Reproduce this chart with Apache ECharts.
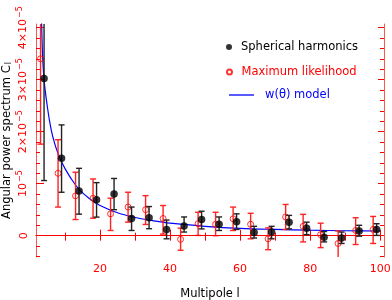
<!DOCTYPE html>
<html><head><meta charset="utf-8">
<script src="https://cdn.jsdelivr.net/npm/echarts@6/dist/echarts.min.js"></script>
<style>html,body{margin:0;padding:0;background:#fff}#c{width:392px;height:300px}</style>
</head><body><div id="c"></div>
<script>
// values of C_l are given in units of 1e-5
const shL  = [4, 9, 14, 19, 24, 29, 34, 39, 44, 49, 54, 59, 64, 69, 74, 79, 84, 89, 94, 99];
const shC  = [3.02, 1.49, 0.86, 0.69, 0.80, 0.33, 0.345, 0.12, 0.185, 0.31, 0.22, 0.27, 0.06, 0.07, 0.26, 0.145, -0.03, -0.045, 0.09, 0.12];
const shLo = [1.06, 0.835, 0.414, 0.357, 0.50, 0.10, 0.134, -0.06, 0.07, 0.13, 0.10, 0.12, -0.045, -0.06, 0.13, 0.02, -0.12, -0.15, -0.01, 0.005];
const shHi = [4.9, 2.13, 1.295, 1.02, 1.10, 0.55, 0.56, 0.30, 0.36, 0.47, 0.36, 0.42, 0.18, 0.18, 0.39, 0.26, 0.08, 0.07, 0.20, 0.23];

const mlL  = [3, 8, 13, 18, 23, 28, 33, 38, 43, 48, 53, 58, 63, 68, 73, 78, 83, 88, 93, 98];
const mlC  = [3.40, 1.20, 0.766, 0.72, 0.42, 0.55, 0.50, 0.33, -0.07, 0.23, 0.22, 0.325, 0.22, -0.06, 0.36, 0.18, 0.02, -0.15, 0.10, 0.12];
const mlLo = [1.76, 0.55, 0.31, 0.337, 0.10, 0.26, 0.216, 0.03, -0.28, 0.005, 0.0, 0.10, -0.06, -0.27, 0.12, -0.12, -0.23, -0.5, -0.17, -0.15];
const mlHi = [5.0, 1.845, 1.22, 1.09, 0.72, 0.835, 0.77, 0.58, 0.145, 0.45, 0.45, 0.55, 0.43, 0.15, 0.60, 0.41, 0.24, 0.09, 0.345, 0.37];

const modelL = [3, 3.5, 4, 5, 6, 7, 8, 9, 10, 12, 14, 17, 20, 25, 30, 35, 40, 50, 60, 70, 80, 90, 100];
const modelC = [4.9, 3.6, 3.0, 2.45, 2.05, 1.78, 1.58, 1.42, 1.29, 1.07, 0.89, 0.71, 0.58, 0.44, 0.35, 0.29, 0.24, 0.18, 0.14, 0.12, 0.105, 0.095, 0.09];

const xLabels = [20, 40, 60, 80, 100];
const xMinorTicks = [10, 30, 50, 70, 90];
const xTopTicks = [10, 20, 30, 40, 50, 60, 70, 80, 90, 100];
const yLabels = [0, 1, 2, 3, 4];
const yMinorTicks = [-0.4, -0.2, 0.2, 0.4, 0.6, 0.8, 1.2, 1.4, 1.6, 1.8, 2.2, 2.4, 2.6, 2.8, 3.2, 3.4, 3.6, 3.8, 4.0];

const RED = '#ff0000', FRAME = '#ff5555', FONT = 'DejaVu Sans';
const XMIN = 1.7, XMAX = 101.1, YMIN = -0.41, YMAX = 4.07;

function errRender(color) {
  return function (params, api) {
    const x = api.value(0), lo = api.value(1), hi = api.value(2);
    const a = api.coord([x, lo]), b = api.coord([x, hi]);
    const w = 3;
    const st = {stroke: color, lineWidth: 1.4};
    const cs = params.coordSys;
    return {
      type: 'group',
      clipPath: {type: 'rect', shape: {x: cs.x, y: cs.y, width: cs.width, height: cs.height}},
      children: [
        {type: 'line', shape: {x1: a[0], y1: a[1], x2: b[0], y2: b[1]}, style: st},
        {type: 'line', shape: {x1: a[0] - w, y1: a[1], x2: a[0] + w, y2: a[1]}, style: st},
        {type: 'line', shape: {x1: b[0] - w, y1: b[1], x2: b[0] + w, y2: b[1]}, style: st}
      ]
    };
  };
}

const baseX = {type: 'value', min: XMIN, max: XMAX, splitLine: {show: false}};
const baseY = {type: 'value', min: YMIN, max: YMAX, splitLine: {show: false}};

const option = {
  animation: false,
  backgroundColor: '#fff',
  textStyle: {fontFamily: FONT},
  grid: {left: 36, right: 8, top: 24, bottom: 43, containLabel: false, outerBoundsMode: 'none'},
  xAxis: [
    Object.assign({}, baseX, {
      position: 'bottom',
      name: 'Multipole l', nameLocation: 'middle', nameGap: 31, nameMoveOverlap: false,
      nameTextStyle: {color: '#000', fontSize: 11.5, fontFamily: FONT},
      axisLine: {show: true, lineStyle: {color: FRAME, width: 1}},
      axisTick: {show: true, inside: true, length: 6, customValues: xLabels, lineStyle: {color: RED}},
      axisLabel: {show: true, customValues: xLabels, color: RED, fontSize: 11, fontFamily: FONT, margin: 7}
    }),
    Object.assign({}, baseX, {
      position: 'bottom',
      axisLine: {show: false},
      axisTick: {show: true, inside: true, length: 3, customValues: xMinorTicks, lineStyle: {color: RED}},
      axisLabel: {show: false}
    }),
    Object.assign({}, baseX, {
      position: 'top',
      axisLine: {show: true, lineStyle: {color: FRAME, width: 1}},
      axisTick: {show: true, inside: true, length: 5, customValues: xTopTicks, lineStyle: {color: RED}},
      axisLabel: {show: false}
    })
  ],
  yAxis: [
    Object.assign({}, baseY, {
      position: 'left',
      name: 'Angular power spectrum C{sub|l}', nameLocation: 'middle', nameGap: 23, nameRotate: 90,
      nameMoveOverlap: false,
      nameTextStyle: {color: '#000', fontSize: 11.5, fontFamily: FONT,
        rich: {sub: {fontSize: 8, color: '#000', fontFamily: FONT, verticalAlign: 'bottom', padding: [0, 0, 0, 1]}}},
      axisLine: {show: true, lineStyle: {color: FRAME, width: 1}},
      axisTick: {show: true, inside: true, length: 8, customValues: yLabels, lineStyle: {color: RED}},
      axisLabel: {
        show: true, customValues: yLabels, rotate: 90, margin: 6, color: RED, fontSize: 11, fontFamily: FONT,
        formatter: function (v) {
          if (v === 0) return '{b|0}';
          if (v === 1) return '{b|10}{s|−5}';
          return '{b|' + v + '×10}{s|−5}';
        },
        rich: {
          b: {fontSize: 11, color: RED, fontFamily: FONT},
          s: {fontSize: 8, color: RED, fontFamily: FONT, verticalAlign: 'top', padding: [0, 0, 6, 1]}
        }
      }
    }),
    Object.assign({}, baseY, {
      position: 'left',
      axisLine: {show: false},
      axisTick: {show: true, inside: true, length: 4, customValues: yMinorTicks, lineStyle: {color: RED}},
      axisLabel: {show: false}
    }),
    Object.assign({}, baseY, {
      position: 'right',
      axisLine: {show: true, lineStyle: {color: FRAME, width: 1}},
      axisTick: {show: true, inside: true, length: 6, customValues: yLabels, lineStyle: {color: RED}},
      axisLabel: {show: false}
    }),
    Object.assign({}, baseY, {
      position: 'right',
      axisLine: {show: false},
      axisTick: {show: true, inside: true, length: 4, customValues: yMinorTicks, lineStyle: {color: RED}},
      axisLabel: {show: false}
    })
  ],
  legend: [
    {left: 226, top: 41, padding: 0, itemWidth: 6, itemHeight: 6, selectedMode: false,
     data: [{name: 'Spherical harmonics', textStyle: {color: '#000'}}],
     textStyle: {fontSize: 11.5, fontFamily: FONT, color: '#000', padding: [0, 0, 0, 4]}},
    {left: 226, top: 66, padding: 0, itemWidth: 6, itemHeight: 5, selectedMode: false,
     data: [{name: 'Maximum likelihood', textStyle: {color: RED}}],
     textStyle: {fontSize: 11.5, fontFamily: FONT, color: RED, padding: [0, 0, 0, 4]}},
    {left: 229, top: 89, padding: 0, itemWidth: 25, itemHeight: 1.3, selectedMode: false,
     data: [{name: 'w(θ) model', icon: 'rect', textStyle: {color: '#0000ff'}}],
     textStyle: {fontSize: 11.5, fontFamily: FONT, color: '#0000ff', padding: [0, 0, 0, 6]}}
  ],
  series: [
    {
      name: 'zero', type: 'line', data: [], xAxisIndex: 0, yAxisIndex: 0, silent: true,
      markLine: {symbol: 'none', silent: true, label: {show: false}, lineStyle: {color: RED, width: 1, type: 'solid'},
        data: [{yAxis: 0}]}
    },
    {
      name: 'w(θ) model', type: 'line', xAxisIndex: 0, yAxisIndex: 0,
      data: modelL.map((l, i) => [l, modelC[i]]),
      smooth: 0.3, symbol: 'none', showSymbol: false, clip: true,
      lineStyle: {color: '#0000ff', width: 1.2}, itemStyle: {color: '#0000ff'}, z: 2
    },
    {
      name: 'mlErr', type: 'custom', xAxisIndex: 0, yAxisIndex: 0,
      data: mlL.map((l, i) => [l, mlLo[i], mlHi[i]]),
      renderItem: errRender('#ff2222'), z: 3
    },
    {
      name: 'Maximum likelihood', type: 'scatter', xAxisIndex: 0, yAxisIndex: 0,
      data: mlL.map((l, i) => [l, mlC[i]]),
      symbol: 'circle', symbolSize: 6,
      itemStyle: {color: 'rgba(255,255,255,0)', borderColor: RED, borderWidth: 1}, z: 4
    },
    {
      name: 'shErr', type: 'custom', xAxisIndex: 0, yAxisIndex: 0,
      data: shL.map((l, i) => [l, shLo[i], shHi[i]]),
      renderItem: errRender('#222222'), z: 5
    },
    {
      name: 'Spherical harmonics', type: 'scatter', xAxisIndex: 0, yAxisIndex: 0,
      data: shL.map((l, i) => [l, shC[i]]),
      symbol: 'circle', symbolSize: 7.5,
      itemStyle: {color: '#000'}, z: 6
    }
  ]
};
const chart = echarts.init(document.getElementById('c'), null, {renderer: 'canvas'});
chart.setOption(option);
</script></body></html>
